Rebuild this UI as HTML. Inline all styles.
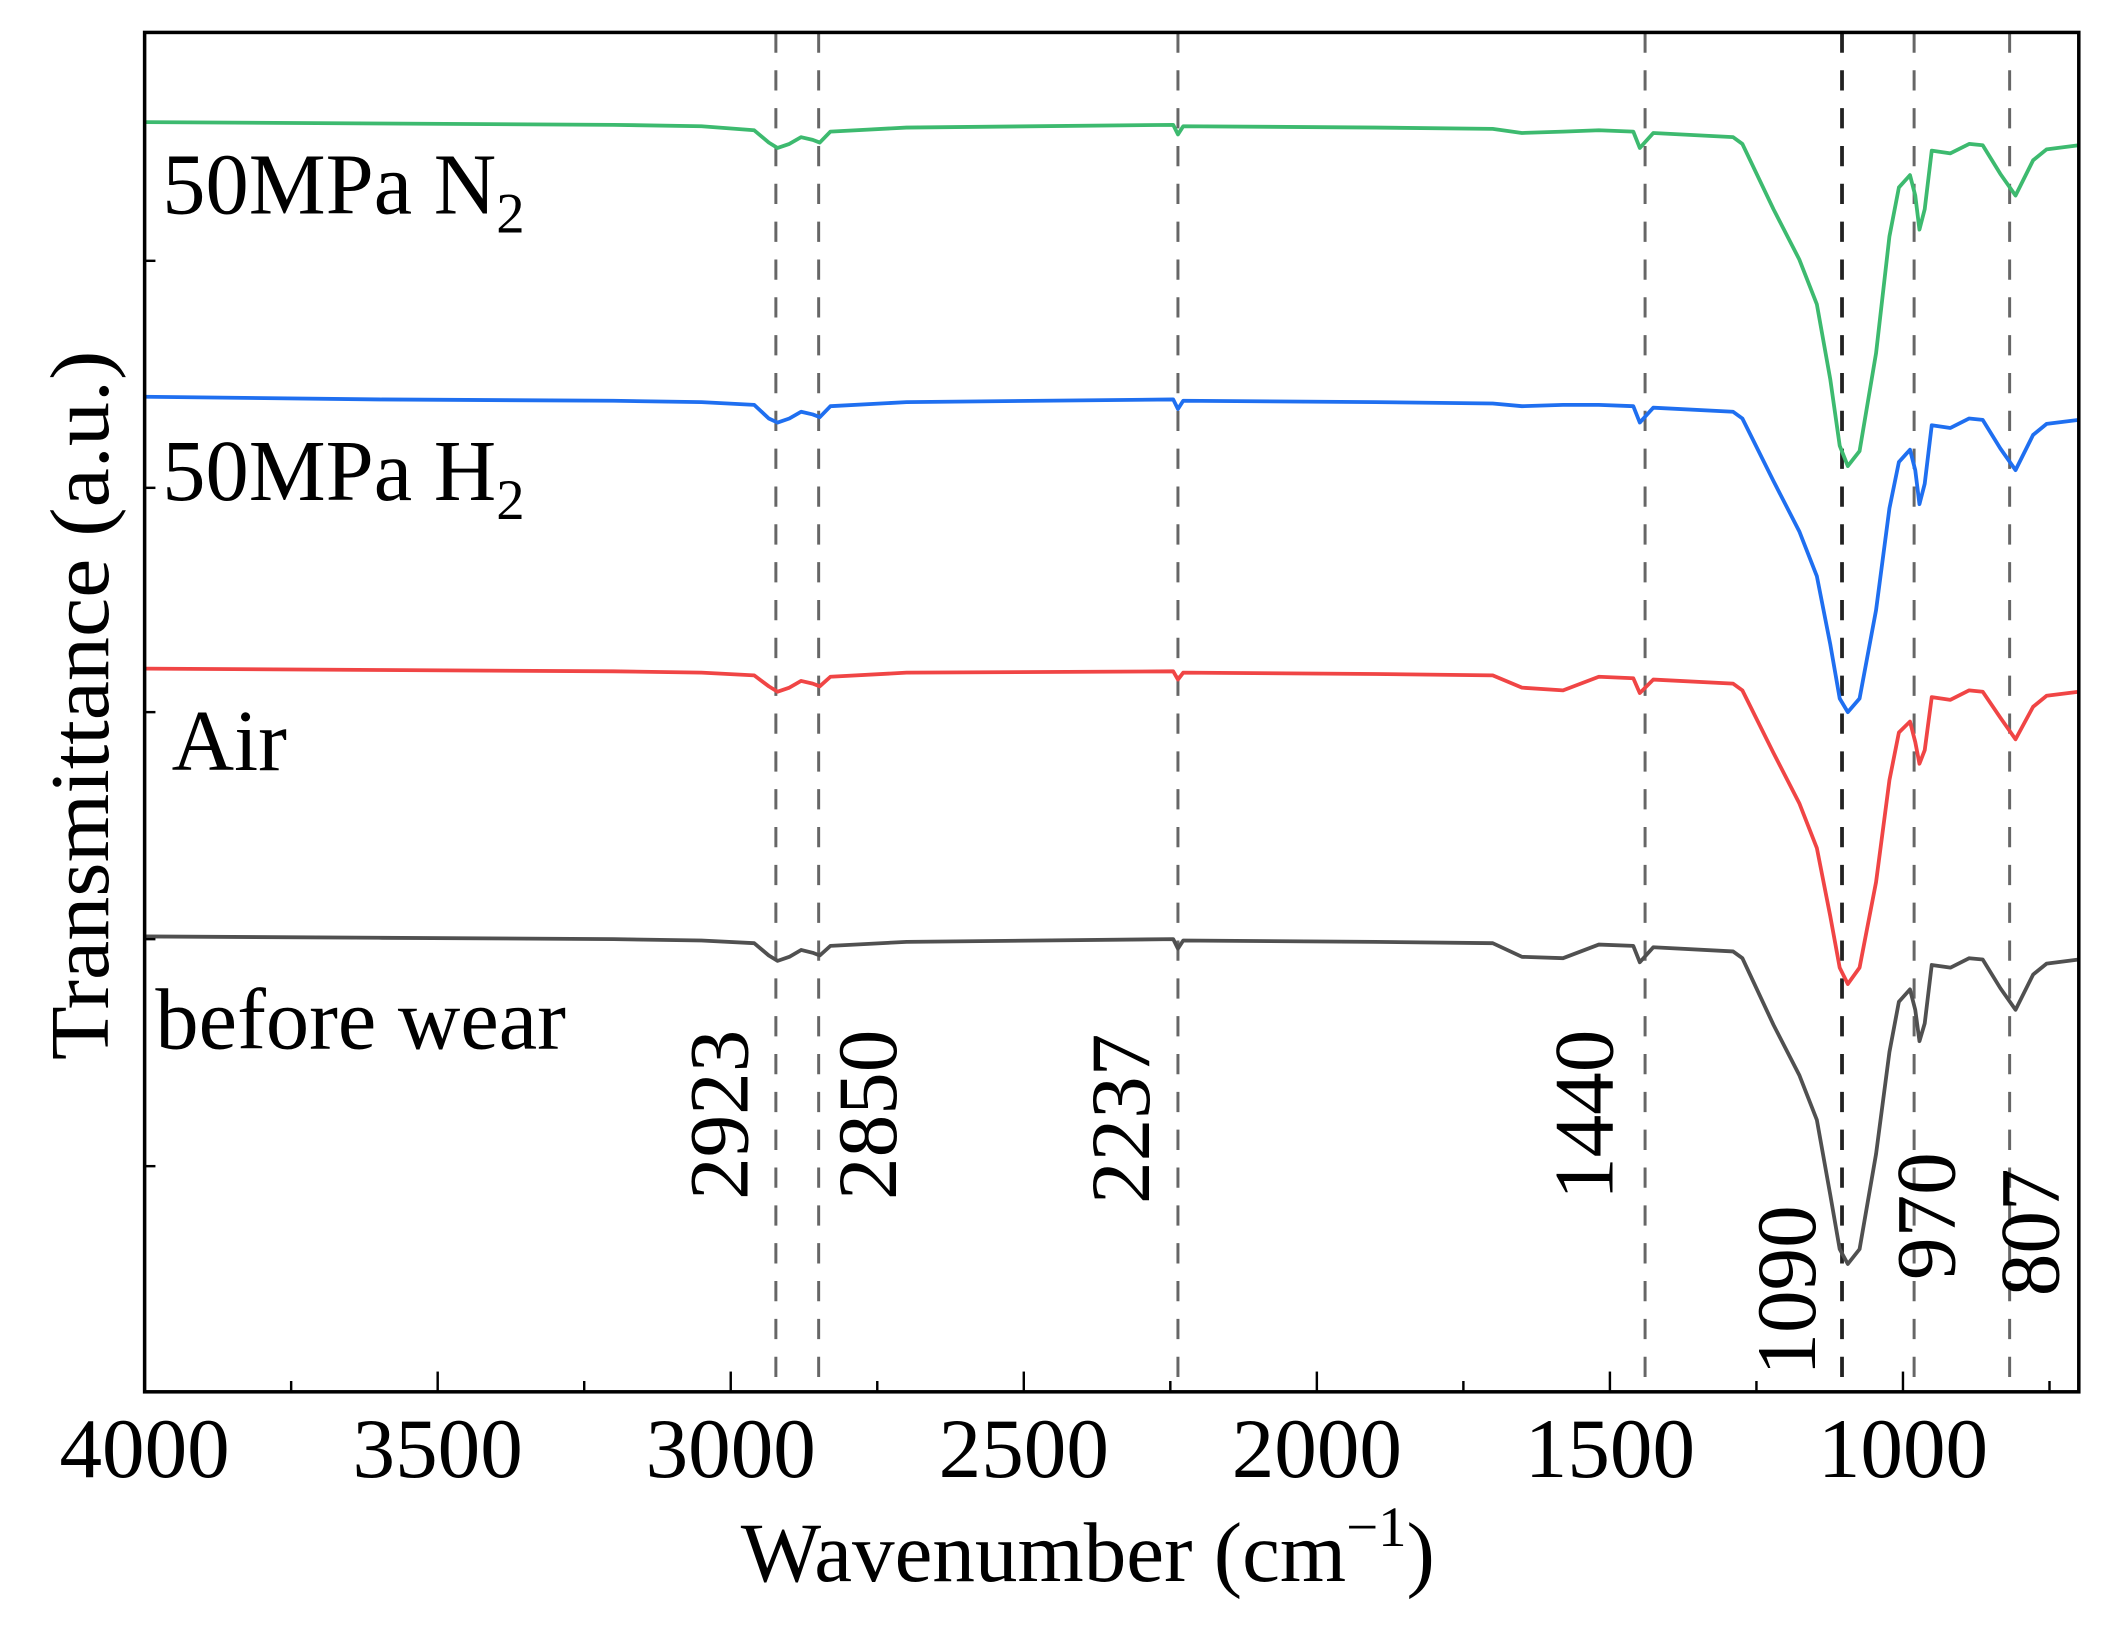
<!DOCTYPE html>
<html><head><meta charset="utf-8"><style>
html,body{margin:0;padding:0;background:#fff;}
svg{display:block;}
text{font-family:"Liberation Serif",serif;fill:#000;}
</style></head><body>
<svg id="chart" width="2118" height="1631" viewBox="0 0 1567 1207" preserveAspectRatio="none" xmlns="http://www.w3.org/2000/svg">
<g id="grid"></g><g id="series"></g><g id="axes"></g><g id="labels"></g>
</svg>
<script>
const wavenumbers=[4000,3600,3200,3050,2960,2935,2920,2900,2880,2860,2848,2830,2700,2245,2237,2228,1900,1700,1650,1580,1519,1460,1449,1426,1290,1274,1221,1177,1147,1124,1108,1094,1074,1046,1023,1007,988,979,972,963,951,919,887,864,834,808,778,755,700];
const greenN2=[93.4,93.3,93.2,93.1,92.8,91.9,91.5,91.8,92.3,92.1,91.9,92.7,93.0,93.2,92.5,93.1,93.0,92.9,92.6,92.7,92.8,92.7,91.5,92.6,92.3,91.8,87.0,83.3,80.0,74.5,69.6,68.1,69.2,76.4,85.0,88.6,89.5,88.0,85.5,87.0,91.3,91.1,91.8,91.7,89.6,88.0,90.6,91.4,91.7];
const blueH2=[73.2,73.0,72.9,72.8,72.6,71.6,71.3,71.6,72.1,71.9,71.7,72.5,72.8,73.0,72.3,72.9,72.8,72.7,72.5,72.6,72.6,72.5,71.3,72.4,72.1,71.6,67.0,63.3,60.0,55.0,51.0,50.0,51.0,57.5,65.0,68.4,69.3,67.8,65.3,66.8,71.1,70.9,71.6,71.5,69.4,67.8,70.4,71.2,71.5];
const redAir=[53.2,53.1,53.0,52.9,52.7,51.9,51.5,51.8,52.3,52.1,51.9,52.6,52.9,53.0,52.4,52.9,52.8,52.7,51.8,51.6,52.6,52.5,51.4,52.4,52.1,51.6,47.0,43.3,40.0,35.0,31.2,30.0,31.2,37.5,45.0,48.5,49.3,47.8,46.2,47.2,51.1,50.9,51.6,51.5,49.6,48.0,50.4,51.2,51.5];
const blackBefore=[33.5,33.4,33.3,33.2,33.0,32.1,31.7,32.0,32.5,32.3,32.1,32.8,33.1,33.3,32.6,33.2,33.1,33.0,32.0,31.9,32.9,32.8,31.6,32.7,32.4,31.9,27.0,23.3,20.0,14.5,10.5,9.4,10.5,17.5,25.0,28.7,29.6,28.1,25.8,27.1,31.4,31.2,31.9,31.8,29.7,28.1,30.7,31.5,31.8];
const peakPositions=[2923,2850,2237,1440,1104,981,818];
const peakLabels=["2923","2850","2237","1440","1090","970","807"];
const xTicks=[4000,3500,3000,2500,2000,1500,1000];
const xMinorTicks=[3750,3250,2750,2250,1750,1250,750];
const yTicks=[16.6,33.3,50.0,66.5,83.2];

const NS="http://www.w3.org/2000/svg";
const L=107,R=1538,T=24,B=1030;
const X=w=>L+(4000-w)*(R-L)/3300;
const Y=v=>B-v*(B-T)/100;
function mk(tag,attrs,parent){const e=document.createElementNS(NS,tag);for(const k in attrs)e.setAttribute(k,attrs[k]);document.getElementById(parent).appendChild(e);return e;}

peakPositions.forEach((p,i)=>{
  const ln=mk('line',{x1:X(p),x2:X(p),y1:T,y2:B,stroke:i===4?'#222':'#666','stroke-width':i===4?2.8:2.2,'stroke-dasharray':'15 13'},'grid');
  
  
});

const series=[[greenN2,'#3dba6f','series-50mpa-n2'],[blueH2,'#1f6ff0','series-50mpa-h2'],[redAir,'#f04545','series-air'],[blackBefore,'#505050','series-before-wear']];
series.forEach(s=>{
  const d=wavenumbers.map((w,i)=>(i?'L':'M')+X(w).toFixed(1)+' '+Y(s[0][i]).toFixed(1)).join(' ');
  const p=mk('path',{d:d,fill:'none',stroke:s[1],'stroke-width':2.8,'stroke-linejoin':'round'},'series');
  
  
});

const fr=mk('rect',{x:L,y:T,width:R-L,height:B-T,fill:'none',stroke:'#000','stroke-width':2.6},'axes');


xTicks.forEach(t=>{
  const tk=mk('line',{x1:X(t),x2:X(t),y1:B,y2:B-15,stroke:'#000','stroke-width':1.8},'axes');
  
  
  const tl=mk('text',{x:X(t),y:1093,'text-anchor':'middle','font-size':63},'labels');
  tl.textContent=t;
  
  
});
xMinorTicks.forEach(t=>{
  const tk=mk('line',{x1:X(t),x2:X(t),y1:B,y2:B-8,stroke:'#000','stroke-width':1.8},'axes');
  
  
});
yTicks.forEach(t=>{
  const tk=mk('line',{x1:L,x2:L+8,y1:Y(t),y2:Y(t),stroke:'#000','stroke-width':1.8},'axes');
  
  
});

const peakLabelPos=[[553,825],[663,825],[850,828],[1193,825],[1343,955],[1446,900],[1523,912]];
peakLabels.forEach((s,i)=>{
  const t=mk('text',{x:peakLabelPos[i][0],y:peakLabelPos[i][1],'text-anchor':'middle','font-size':63,transform:'rotate(-90 '+peakLabelPos[i][0]+' '+peakLabelPos[i][1]+')'},'labels');
  t.textContent=s;
  
  
});
</script>
<script>
(function(){
const svg=document.getElementById('labels');
svg.insertAdjacentHTML('beforeend',
'<text x="120" y="158" font-size="64">50MPa N<tspan font-size="42" dy="14">2</tspan></text>'+
'<text x="120" y="370" font-size="64">50MPa H<tspan font-size="42" dy="14">2</tspan></text>'+
'<text x="127" y="570" font-size="64">Air</text>'+
'<text x="115" y="776" font-size="64">before wear</text>'+
'<text x="548" y="1170" font-size="63">Wavenumber (cm<tspan font-size="42" dy="-26">−1</tspan><tspan dy="26">)</tspan></text>'+
'<text x="80" y="522" font-size="62" text-anchor="middle" textLength="525" lengthAdjust="spacingAndGlyphs" transform="rotate(-90 80 522)">Transmittance (a.u.)</text>');
})();
</script>
</body></html>
